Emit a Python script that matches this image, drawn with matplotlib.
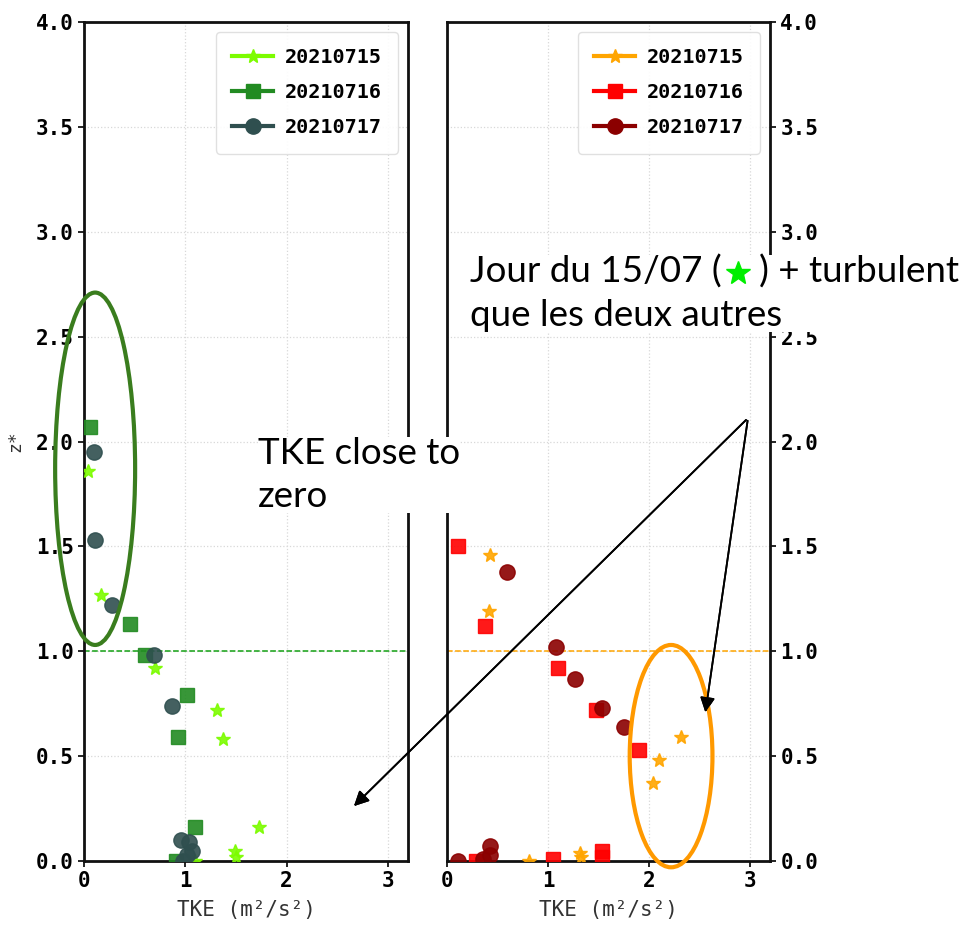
import matplotlib
matplotlib.use('Agg')
import matplotlib.pyplot as plt
from matplotlib.lines import Line2D
from matplotlib.patches import Ellipse

# donnees : TKE (m2/s2) et z*
days = ['20210715', '20210716', '20210717']

tke_l15 = [0.04, 0.17, 0.70, 1.31, 1.37, 1.73, 1.49, 1.50, 1.10]
z_l15 = [1.86, 1.27, 0.92, 0.72, 0.58, 0.16, 0.05, 0.02, 0.00]
tke_l16 = [0.06, 0.45, 0.60, 1.02, 0.93, 1.10, 0.91]
z_l16 = [2.07, 1.13, 0.98, 0.79, 0.59, 0.16, 0.00]
tke_l17 = [0.10, 0.11, 0.28, 0.69, 0.87, 0.96, 1.04, 1.07, 1.02, 0.98]
z_l17 = [1.95, 1.53, 1.22, 0.98, 0.74, 0.10, 0.09, 0.05, 0.03, 0.00]

tke_r15 = [0.43, 0.42, 2.32, 2.10, 2.04, 1.32, 1.33, 0.81]
z_r15 = [1.46, 1.19, 0.59, 0.48, 0.37, 0.04, 0.02, 0.00]
tke_r16 = [0.11, 0.38, 1.10, 1.48, 1.90, 1.54, 1.54, 1.05, 0.29]
z_r16 = [1.50, 1.12, 0.92, 0.72, 0.53, 0.05, 0.02, 0.01, 0.00]
tke_r17 = [0.59, 1.08, 1.27, 1.54, 1.75, 0.43, 0.43, 0.36, 0.11]
z_r17 = [1.38, 1.02, 0.87, 0.73, 0.64, 0.07, 0.03, 0.01, 0.00]

left_colors = ['#7cfc00', '#228b22', '#2f4f4f']
right_colors = ['#ffa500', '#ff0000', '#8b0000']
markers = ['*', 's', 'o']
sizes = [10, 10, 11]

mono = 'DejaVu Sans Mono'
plt.rcParams['font.family'] = mono
plt.rcParams['font.weight'] = 'bold'

fig = plt.figure(figsize=(9.69, 9.25), dpi=100)
ax1 = fig.add_axes([84/969, 64/925, 324/969, 839/925])
ax2 = fig.add_axes([447/969, 64/925, 323/969, 839/925])


def panel(ax, series, colors, hcolor):
    for (x, z), c, m, s in zip(series, colors, markers, sizes):
        ax.plot(x, z, ls='', marker=m, ms=s, color=c, alpha=0.9, zorder=3)
    ax.axhline(1.0, color=hcolor, ls='--', lw=1.1, zorder=2)
    ax.set_xlim(0, 3.2)
    ax.set_ylim(0, 4.0)
    ax.set_xticks([0, 1, 2, 3])
    ax.set_yticks([0, 0.5, 1, 1.5, 2, 2.5, 3, 3.5, 4])
    ax.set_yticklabels(['%.1f' % v for v in ax.get_yticks()])
    ax.grid(True, color='#d8d8d8', ls=':', lw=0.9)
    for sp in ax.spines.values():
        sp.set_linewidth(2)
        sp.set_color('#111111')
    ax.tick_params(labelsize=15, length=4, width=1.2)
    ax.set_xlabel('TKE (m²/s²)', fontsize=15, fontweight='normal', color='#333333', labelpad=6)
    handles = [Line2D([], [], color=c, marker=m, ms=s, lw=3) for c, m, s in zip(colors, markers, sizes)]
    leg = ax.legend(handles, days, loc='upper right', prop={'weight': 'bold', 'size': 14.5},
                    handlelength=2.0, handletextpad=0.6, borderpad=0.8, labelspacing=0.8,
                    fancybox=True, framealpha=0.9)
    leg.get_frame().set_edgecolor('#dddddd')


panel(ax1, [(tke_l15, z_l15), (tke_l16, z_l16), (tke_l17, z_l17)], left_colors, '#13a013')
panel(ax2, [(tke_r15, z_r15), (tke_r16, z_r16), (tke_r17, z_r17)], right_colors, '#ffa500')

ax1.set_ylabel('z*', fontsize=13, fontweight='normal', color='#333333', labelpad=8)
ax2.yaxis.tick_right()
ax2.tick_params(axis='y', labelleft=False, labelright=True)

# ellipses
ax1.add_patch(Ellipse((0.11, 1.87), 0.79, 1.68, fill=False, ec='#3a7d1e', lw=3, clip_on=False, zorder=4))
ax2.add_patch(Ellipse((2.22, 0.50), 0.82, 1.06, fill=False, ec='#ff9900', lw=3, clip_on=False, zorder=4))

# textes
box = dict(facecolor='white', edgecolor='none', pad=0)
fig.text(258/969, 1 - 437/925, 'TKE close to\nzero', family='Lato', fontweight='normal', fontsize=26.5,
         va='top', ha='left', linespacing=1.38, bbox=box, zorder=5)
fig.text(470/969, 1 - 255/925, 'Jour du 15/07 (    ) + turbulent\nque les deux autres', family='Lato',
         fontweight='normal', fontsize=26.5, va='top', ha='left', linespacing=1.38, bbox=box, zorder=5)
fig.add_artist(Line2D([738/969], [1 - 273/925], marker='*', ms=18, color='#00ee00', ls='', zorder=6))

# fleches
arrow = dict(arrowstyle='-|>', color='black', lw=1.3, mutation_scale=22)
fig.add_artist(plt.annotate('', xy=(352, 925 - 808), xytext=(748, 925 - 418),
                            xycoords='figure pixels', textcoords='figure pixels', arrowprops=arrow))
fig.add_artist(plt.annotate('', xy=(705, 925 - 715), xytext=(748, 925 - 418),
                            xycoords='figure pixels', textcoords='figure pixels', arrowprops=arrow))

fig.savefig('out.png', dpi=100)
